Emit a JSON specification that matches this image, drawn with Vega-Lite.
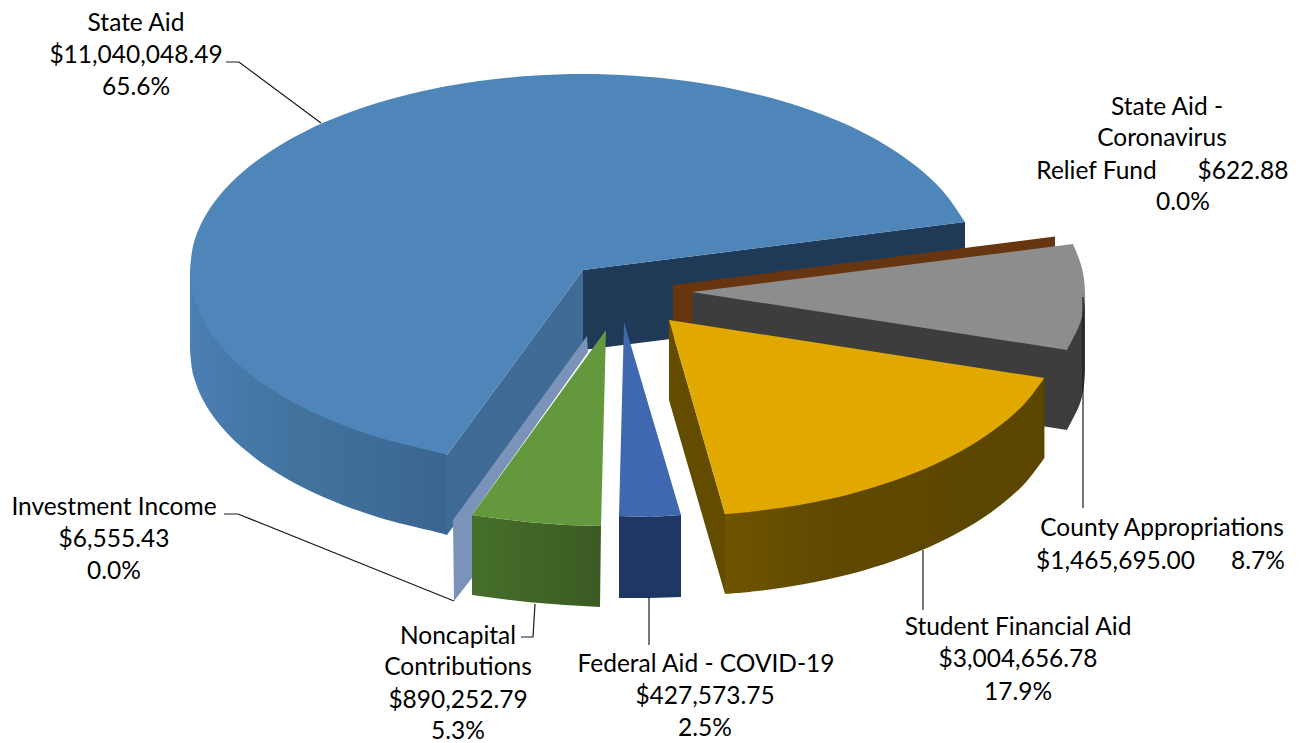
{
  "$schema": "https://vega.github.io/schema/vega-lite/v6.json",
  "width": 1304,
  "height": 743,
  "padding": 0,
  "autosize": {"type": "none"},
  "background": "white",
  "config": {"view": {"stroke": null}},
  "datasets": {
    "faces": [
      {"f":"cutBack","i":1,"x":583,"y":270},{"f":"cutBack","i":2,"x":965,"y":222},{"f":"cutBack","i":3,"x":965,"y":302},{"f":"cutBack","i":4,"x":583,"y":350},{"f":"cutBack","i":5,"x":583,"y":270},
      {"f":"cutFront","i":1,"x":447,"y":455},{"f":"cutFront","i":2,"x":583,"y":270},{"f":"cutFront","i":3,"x":583,"y":350},{"f":"cutFront","i":4,"x":447,"y":535},{"f":"cutFront","i":5,"x":447,"y":455},

      {"f":"stateWall","i":1,"x":190,"y":270},{"f":"stateWall","i":2,"x":190,"y":350},{"f":"stateWall","i":3,"x":300,"y":470},{"f":"stateWall","i":4,"x":447,"y":535},{"f":"stateWall","i":5,"x":447,"y":455},{"f":"stateWall","i":6,"x":190,"y":270},
      {"f":"stateWallArc","i":1,"x":190,"y":350},{"f":"stateWallArc","i":2,"x":193.4,"y":375.6},{"f":"stateWallArc","i":3,"x":203.4,"y":400.8},{"f":"stateWallArc","i":4,"x":219.9,"y":425},{"f":"stateWallArc","i":5,"x":242.7,"y":448},{"f":"stateWallArc","i":6,"x":271.3,"y":469.3},{"f":"stateWallArc","i":7,"x":305.1,"y":488.6},{"f":"stateWallArc","i":8,"x":343.7,"y":505.4},{"f":"stateWallArc","i":9,"x":386.5,"y":519.7},{"f":"stateWallArc","i":10,"x":432.5,"y":531.1},{"f":"stateWallArc","i":11,"x":447,"y":535},

      {"f":"stateTop","i":1,"x":447,"y":455},{"f":"stateTop","i":2,"x":583,"y":270},{"f":"stateTop","i":3,"x":965,"y":222},{"f":"stateTop","i":4,"x":583,"y":200},{"f":"stateTop","i":5,"x":190,"y":270},{"f":"stateTop","i":6,"x":300,"y":380},{"f":"stateTop","i":7,"x":447,"y":455},
      {"f":"stateTopArc","i":1,"x":965,"y":222},{"f":"stateTopArc","i":2,"x":946.1,"y":194.9},{"f":"stateTopArc","i":3,"x":923.3,"y":172},{"f":"stateTopArc","i":4,"x":894.7,"y":150.7},{"f":"stateTopArc","i":5,"x":860.9,"y":131.4},{"f":"stateTopArc","i":6,"x":822.3,"y":114.6},{"f":"stateTopArc","i":7,"x":779.5,"y":100.3},{"f":"stateTopArc","i":8,"x":733.4,"y":88.9},{"f":"stateTopArc","i":9,"x":684.8,"y":80.7},{"f":"stateTopArc","i":10,"x":634.3,"y":75.7},{"f":"stateTopArc","i":11,"x":583,"y":74},{"f":"stateTopArc","i":12,"x":531.7,"y":75.7},{"f":"stateTopArc","i":13,"x":481.2,"y":80.7},{"f":"stateTopArc","i":14,"x":432.6,"y":88.9},{"f":"stateTopArc","i":15,"x":386.5,"y":100.3},{"f":"stateTopArc","i":16,"x":343.7,"y":114.6},{"f":"stateTopArc","i":17,"x":305.1,"y":131.4},{"f":"stateTopArc","i":18,"x":271.3,"y":150.7},{"f":"stateTopArc","i":19,"x":242.7,"y":172},{"f":"stateTopArc","i":20,"x":219.9,"y":194.9},{"f":"stateTopArc","i":21,"x":203.4,"y":219.2},{"f":"stateTopArc","i":22,"x":193.4,"y":244.4},{"f":"stateTopArc","i":23,"x":190,"y":270},
      {"f":"stateTopArcLow","i":1,"x":190,"y":270},{"f":"stateTopArcLow","i":2,"x":193.4,"y":295.6},{"f":"stateTopArcLow","i":3,"x":203.4,"y":320.8},{"f":"stateTopArcLow","i":4,"x":219.9,"y":345},{"f":"stateTopArcLow","i":5,"x":242.7,"y":368},{"f":"stateTopArcLow","i":6,"x":271.3,"y":389.3},{"f":"stateTopArcLow","i":7,"x":305.1,"y":408.6},{"f":"stateTopArcLow","i":8,"x":343.7,"y":425.4},{"f":"stateTopArcLow","i":9,"x":386.5,"y":439.7},{"f":"stateTopArcLow","i":10,"x":432.5,"y":451.1},{"f":"stateTopArcLow","i":11,"x":447,"y":455},

      {"f":"relief","i":1,"x":673,"y":285},{"f":"relief","i":2,"x":1055,"y":236.5},{"f":"relief","i":3,"x":1055,"y":250},{"f":"relief","i":4,"x":692,"y":296},{"f":"relief","i":5,"x":692,"y":322},{"f":"relief","i":6,"x":673,"y":326},{"f":"relief","i":7,"x":673,"y":285},

      {"f":"countyWall","i":1,"x":692,"y":292},{"f":"countyWall","i":2,"x":692,"y":372},{"f":"countyWall","i":3,"x":1067,"y":430},{"f":"countyWall","i":4,"x":1078.5,"y":400},{"f":"countyWall","i":5,"x":1085,"y":372},{"f":"countyWall","i":6,"x":1085,"y":292},{"f":"countyWall","i":7,"x":692,"y":292},
      {"f":"countyWallArc","i":1,"x":1085,"y":372},{"f":"countyWallArc","i":2,"x":1083.5,"y":389},{"f":"countyWallArc","i":3,"x":1079,"y":406},{"f":"countyWallArc","i":4,"x":1067,"y":430},

      {"f":"countyTop","i":1,"x":692,"y":292},{"f":"countyTop","i":2,"x":1073,"y":244},{"f":"countyTop","i":3,"x":1075,"y":300},{"f":"countyTop","i":4,"x":1067,"y":350},{"f":"countyTop","i":5,"x":692,"y":292},
      {"f":"countyTopArc","i":1,"x":1073,"y":244},{"f":"countyTopArc","i":2,"x":1082,"y":268},{"f":"countyTopArc","i":3,"x":1085,"y":292},{"f":"countyTopArc","i":4,"x":1083.5,"y":309},{"f":"countyTopArc","i":5,"x":1079,"y":326},{"f":"countyTopArc","i":6,"x":1067,"y":350},

      {"f":"studentCut","i":1,"x":669,"y":320},{"f":"studentCut","i":2,"x":725,"y":514},{"f":"studentCut","i":3,"x":725,"y":594},{"f":"studentCut","i":4,"x":669,"y":400},{"f":"studentCut","i":5,"x":669,"y":320},

      {"f":"studentWall","i":1,"x":1044.4,"y":378},{"f":"studentWall","i":2,"x":1044.4,"y":458},{"f":"studentWall","i":3,"x":900,"y":540},{"f":"studentWall","i":4,"x":725,"y":594},{"f":"studentWall","i":5,"x":725,"y":514},{"f":"studentWall","i":6,"x":1044.4,"y":378},
      {"f":"studentWallArc","i":1,"x":1044.4,"y":458},{"f":"studentWallArc","i":2,"x":1025.2,"y":483},{"f":"studentWallArc","i":3,"x":1000.4,"y":505.3},{"f":"studentWallArc","i":4,"x":970,"y":526},{"f":"studentWallArc","i":5,"x":934.7,"y":544.5},{"f":"studentWallArc","i":6,"x":894.6,"y":560.5},{"f":"studentWallArc","i":7,"x":850.6,"y":574},{"f":"studentWallArc","i":8,"x":803.4,"y":584.2},{"f":"studentWallArc","i":9,"x":757.4,"y":591},{"f":"studentWallArc","i":10,"x":725,"y":594},

      {"f":"studentTop","i":1,"x":669,"y":320},{"f":"studentTop","i":2,"x":1044.4,"y":378},{"f":"studentTop","i":3,"x":900,"y":460},{"f":"studentTop","i":4,"x":725,"y":514},{"f":"studentTop","i":5,"x":669,"y":320},
      {"f":"studentTopArc","i":1,"x":1044.4,"y":378},{"f":"studentTopArc","i":2,"x":1025.2,"y":402.9},{"f":"studentTopArc","i":3,"x":1000.4,"y":425.3},{"f":"studentTopArc","i":4,"x":970,"y":446},{"f":"studentTopArc","i":5,"x":934.7,"y":464.5},{"f":"studentTopArc","i":6,"x":894.6,"y":480.5},{"f":"studentTopArc","i":7,"x":850.6,"y":493.9},{"f":"studentTopArc","i":8,"x":803.4,"y":504.2},{"f":"studentTopArc","i":9,"x":757.4,"y":510.9},{"f":"studentTopArc","i":10,"x":725,"y":514},

      {"f":"investment","i":1,"x":453,"y":520},{"f":"investment","i":2,"x":587,"y":336},{"f":"investment","i":3,"x":588,"y":352},{"f":"investment","i":4,"x":472,"y":515},{"f":"investment","i":5,"x":472,"y":578},{"f":"investment","i":6,"x":454,"y":601},{"f":"investment","i":7,"x":453,"y":520},

      {"f":"noncapWall","i":1,"x":472,"y":515},{"f":"noncapWall","i":2,"x":500,"y":518.7},{"f":"noncapWall","i":3,"x":530,"y":522.3},{"f":"noncapWall","i":4,"x":565,"y":525},{"f":"noncapWall","i":5,"x":601,"y":526},{"f":"noncapWall","i":6,"x":600,"y":607},{"f":"noncapWall","i":7,"x":565,"y":605},{"f":"noncapWall","i":8,"x":530,"y":602.3},{"f":"noncapWall","i":9,"x":500,"y":598.7},{"f":"noncapWall","i":10,"x":472,"y":595},{"f":"noncapWall","i":11,"x":472,"y":515},
      {"f":"noncapTop","i":1,"x":606,"y":330},{"f":"noncapTop","i":2,"x":601,"y":526},{"f":"noncapTop","i":3,"x":565,"y":525},{"f":"noncapTop","i":4,"x":530,"y":522.3},{"f":"noncapTop","i":5,"x":500,"y":518.7},{"f":"noncapTop","i":6,"x":472,"y":515},{"f":"noncapTop","i":7,"x":606,"y":330},

      {"f":"federalWall","i":1,"x":619,"y":516},{"f":"federalWall","i":2,"x":650,"y":517},{"f":"federalWall","i":3,"x":681,"y":515},{"f":"federalWall","i":4,"x":681,"y":597},{"f":"federalWall","i":5,"x":650,"y":598},{"f":"federalWall","i":6,"x":619,"y":598},{"f":"federalWall","i":7,"x":619,"y":516},
      {"f":"federalTop","i":1,"x":624,"y":322},{"f":"federalTop","i":2,"x":681,"y":515},{"f":"federalTop","i":3,"x":650,"y":517},{"f":"federalTop","i":4,"x":619,"y":516},{"f":"federalTop","i":5,"x":624,"y":322}
    ],
    "leaders": [
      {"s":"State Aid","i":1,"x":226,"y":62},{"s":"State Aid","i":2,"x":239,"y":62},{"s":"State Aid","i":3,"x":321,"y":123},
      {"s":"Investment Income","i":1,"x":224,"y":514},{"s":"Investment Income","i":2,"x":238,"y":514},{"s":"Investment Income","i":3,"x":454,"y":601},
      {"s":"Noncapital Contributions","i":1,"x":521,"y":637},{"s":"Noncapital Contributions","i":2,"x":533,"y":637},{"s":"Noncapital Contributions","i":3,"x":535,"y":604},
      {"s":"Federal Aid - COVID-19","i":1,"x":649,"y":597},{"s":"Federal Aid - COVID-19","i":2,"x":649,"y":645},
      {"s":"Student Financial Aid","i":1,"x":923,"y":550},{"s":"Student Financial Aid","i":2,"x":923,"y":610},
      {"s":"County Appropriations","i":1,"x":1083,"y":297},{"s":"County Appropriations","i":2,"x":1083,"y":508}
    ],
    "labels": [
      {"t":"State Aid","x":136,"y":24},{"t":"$11,040,048.49","x":136,"y":56},{"t":"65.6%","x":136,"y":88},
      {"t":"State Aid -","x":1167,"y":108},{"t":"Coronavirus","x":1162,"y":139},{"t":"Relief Fund","x":1096.5,"y":172},{"t":"$622.88","x":1243,"y":172},{"t":"0.0%","x":1183,"y":203},
      {"t":"Investment Income","x":114,"y":508},{"t":"$6,555.43","x":114,"y":540},{"t":"0.0%","x":114,"y":572},
      {"t":"Noncapital","x":458,"y":637},{"t":"Contributions","x":458,"y":668},{"t":"$890,252.79","x":458,"y":701},{"t":"5.3%","x":458,"y":732},
      {"t":"Federal Aid - COVID-19","x":706,"y":665},{"t":"$427,573.75","x":705,"y":697},{"t":"2.5%","x":705,"y":729},
      {"t":"Student Financial Aid","x":1018,"y":628},{"t":"$3,004,656.78","x":1018,"y":660},{"t":"17.9%","x":1018,"y":693},
      {"t":"County Appropriations","x":1162,"y":529},{"t":"$1,465,695.00","x":1115.5,"y":562},{"t":"8.7%","x":1258,"y":562}
    ]
  },
  "data": {"name": "faces"},
  "encoding": {
    "x": {"field": "x", "type": "quantitative", "axis": null, "scale": {"domain": [0, 1304], "nice": false, "zero": false}},
    "y": {"field": "y", "type": "quantitative", "axis": null, "scale": {"domain": [743, 0], "nice": false, "zero": false}},
    "order": {"field": "i", "type": "quantitative"}
  },
  "layer": [
    {"transform": [{"filter": "datum.f === 'cutBack'"}], "mark": {"type": "line", "fill": "#1f3a56", "strokeWidth": 0}},
    {"transform": [{"filter": "datum.f === 'cutFront'"}], "mark": {"type": "line", "fill": "#3f6b96", "strokeWidth": 0}},
    {"transform": [{"filter": "datum.f === 'stateWall'"}], "mark": {"type": "line", "strokeWidth": 0, "fill": {"gradient": "linear", "x1": 0, "y1": 0, "x2": 1, "y2": 0, "stops": [{"offset": 0, "color": "#4b7fb3"}, {"offset": 0.4, "color": "#42739f"}, {"offset": 1, "color": "#3b6591"}]}}},
    {"transform": [{"filter": "datum.f === 'stateWallArc'"}], "mark": {"type": "line", "interpolate": "cardinal", "strokeWidth": 0, "fill": {"gradient": "linear", "x1": 0, "y1": 0, "x2": 1, "y2": 0, "stops": [{"offset": 0, "color": "#4b7fb3"}, {"offset": 0.4, "color": "#42739f"}, {"offset": 1, "color": "#3b6591"}]}}},
    {"transform": [{"filter": "datum.f === 'stateTop'"}], "mark": {"type": "line", "fill": "#4f86ba", "strokeWidth": 0}},
    {"transform": [{"filter": "datum.f === 'stateTopArc'"}], "mark": {"type": "line", "interpolate": "cardinal", "fill": "#4f86ba", "strokeWidth": 0}},
    {"transform": [{"filter": "datum.f === 'stateTopArcLow'"}], "mark": {"type": "line", "interpolate": "cardinal", "fill": "#4f86ba", "strokeWidth": 0}},
    {"transform": [{"filter": "datum.f === 'relief'"}], "mark": {"type": "line", "fill": "#67350f", "strokeWidth": 0}},
    {"transform": [{"filter": "datum.f === 'countyWall'"}], "mark": {"type": "line", "fill": "#3d3d3d", "strokeWidth": 0}},
    {"transform": [{"filter": "datum.f === 'countyWallArc'"}], "mark": {"type": "line", "interpolate": "cardinal", "fill": "#3d3d3d", "strokeWidth": 0}},
    {"transform": [{"filter": "datum.f === 'countyTop'"}], "mark": {"type": "line", "fill": "#8d8d8d", "strokeWidth": 0}},
    {"transform": [{"filter": "datum.f === 'countyTopArc'"}], "mark": {"type": "line", "interpolate": "cardinal", "fill": "#8d8d8d", "strokeWidth": 0}},
    {"transform": [{"filter": "datum.f === 'studentCut'"}], "mark": {"type": "line", "fill": "#634c00", "strokeWidth": 0}},
    {"transform": [{"filter": "datum.f === 'studentWall'"}], "mark": {"type": "line", "strokeWidth": 0, "fill": {"gradient": "linear", "x1": 0, "y1": 0, "x2": 1, "y2": 0, "stops": [{"offset": 0, "color": "#705500"}, {"offset": 0.3, "color": "#604900"}, {"offset": 1, "color": "#5b4600"}]}}},
    {"transform": [{"filter": "datum.f === 'studentWallArc'"}], "mark": {"type": "line", "interpolate": "cardinal", "strokeWidth": 0, "fill": {"gradient": "linear", "x1": 0, "y1": 0, "x2": 1, "y2": 0, "stops": [{"offset": 0, "color": "#705500"}, {"offset": 0.3, "color": "#604900"}, {"offset": 1, "color": "#5b4600"}]}}},
    {"transform": [{"filter": "datum.f === 'studentTop'"}], "mark": {"type": "line", "fill": "#e1a900", "strokeWidth": 0}},
    {"transform": [{"filter": "datum.f === 'studentTopArc'"}], "mark": {"type": "line", "interpolate": "cardinal", "fill": "#e1a900", "strokeWidth": 0}},
    {"transform": [{"filter": "datum.f === 'investment'"}], "mark": {"type": "line", "fill": "#7b93b8", "strokeWidth": 0}},
    {"transform": [{"filter": "datum.f === 'noncapWall'"}], "mark": {"type": "line", "strokeWidth": 0, "fill": {"gradient": "linear", "x1": 0, "y1": 0, "x2": 1, "y2": 0, "stops": [{"offset": 0, "color": "#466f2b"}, {"offset": 1, "color": "#3a5b22"}]}}},
    {"transform": [{"filter": "datum.f === 'noncapTop'"}], "mark": {"type": "line", "fill": "#63993c", "strokeWidth": 0}},
    {"transform": [{"filter": "datum.f === 'federalWall'"}], "mark": {"type": "line", "fill": "#1f3763", "strokeWidth": 0}},
    {"transform": [{"filter": "datum.f === 'federalTop'"}], "mark": {"type": "line", "fill": "#3f68b1", "strokeWidth": 0}},
    {
      "data": {"name": "leaders"},
      "mark": {"type": "line", "color": "#1a1a1a", "strokeWidth": 1.2},
      "encoding": {"detail": {"field": "s", "type": "nominal"}}
    },
    {
      "data": {"name": "labels"},
      "mark": {"type": "text", "font": "Lato", "fontSize": 24.5, "color": "#000000", "align": "center", "baseline": "middle"},
      "encoding": {"text": {"field": "t", "type": "nominal"}, "order": null}
    }
  ]
}
